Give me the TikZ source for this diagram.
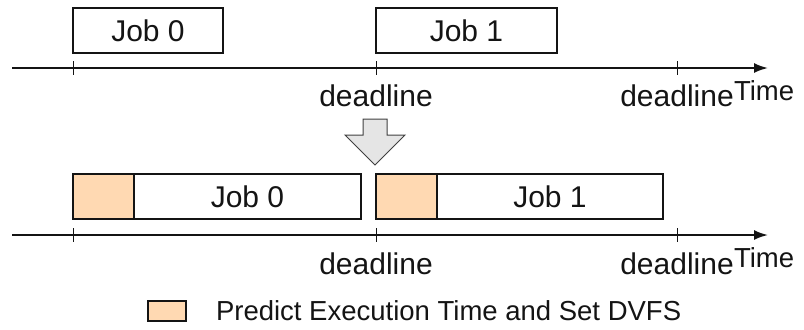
\documentclass[tikz,border=0pt]{standalone}
\usepackage{fontspec}
\setmainfont{Liberation Sans}
\usetikzlibrary{arrows.meta,positioning}
\definecolor{SchedInk}{gray}{0.08}
\definecolor{SchedArrowFill}{gray}{0.90}
\definecolor{SchedArrowInk}{gray}{0.25}
\definecolor{SchedPredict}{RGB}{255,217,178}
\tikzset{
    sched/diagram/.style={
        draw=SchedInk,
        text=SchedInk,
        line width=0.6pt,
        line join=miter,
        every node/.style={inner sep=0pt, outer sep=0pt}
    },
    sched/axis/.style={draw=SchedInk, line width=0.8pt,
        -{Latex[length=5.6pt, width=4pt]}},
    sched/tick/.style={draw=SchedInk, line width=0.4pt},
    sched/job/.style={draw=SchedInk, fill=white, line width=0.7pt,
        minimum height=18pt, font=\fontsize{12}{14}\selectfont},
    sched/predict/.style={draw=SchedInk, fill=SchedPredict, line width=0.7pt,
        minimum height=18pt, minimum width=24.4pt},
    sched/deadline/.style={anchor=base, font=\fontsize{12}{14}\selectfont},
    sched/time/.style={anchor=base west, font=\fontsize{11}{13}\selectfont},
    sched/legend/.style={anchor=base west, font=\fontsize{11}{13}\selectfont},
    sched/step arrow/.style={draw=SchedArrowInk, fill=SchedArrowFill, line width=0.4pt}
}
\begin{document}
\begin{tikzpicture}[sched/diagram, x=0.4pt, y=-0.4pt]
    \useasboundingbox (0,0) rectangle (804,329);
    % before: plain jobs
    \coordinate (topstart) at (12,68);
    \coordinate (topend) at (768,68);
    \draw[sched/axis] (topstart) -- (topend);
    \foreach \tx in {73,376,677}
        \draw[sched/tick] (\tx,61) -- (\tx,75);
    \node[sched/job, minimum width=60pt] (topjob0) at (148,30.5) {Job 0};
    \node[sched/job, minimum width=72.4pt] (topjob1) at (466.5,30.5) {Job 1};
    \node[sched/deadline] (topdead1) at (376,106) {deadline};
    \node[sched/deadline] (topdead2) at (677,106) {deadline};
    \node[sched/time] (toptime) at (734,100) {Time};
    % step arrow
    \draw[sched/step arrow] (363,119) -- (387,119) -- (387,135) -- (405,135)
        -- (375,165) -- (345,135) -- (363,135) -- cycle;
    % after: prediction before each job
    \coordinate (botstart) at (12,235);
    \coordinate (botend) at (768,235);
    \draw[sched/axis] (botstart) -- (botend);
    \foreach \tx in {73,376,677}
        \draw[sched/tick] (\tx,228) -- (\tx,242);
    \node[sched/predict] (pred0) at (103.5,196.5) {};
    \node[sched/job, minimum width=90.8pt, right=0pt of pred0] (botjob0) {Job 0};
    \node[sched/predict] (pred1) at (406.5,196.5) {};
    \node[sched/job, minimum width=90.4pt, right=0pt of pred1] (botjob1) {Job 1};
    \node[sched/deadline] (botdead1) at (376,274) {deadline};
    \node[sched/deadline] (botdead2) at (677,274) {deadline};
    \node[sched/time] (bottime) at (734,267) {Time};
    % legend
    \node[sched/predict, minimum width=15.2pt, minimum height=8pt,
          line width=0.5pt] (legswatch) at (167,311) {};
    \node[sched/legend] (legtext) at (216,320) {Predict Execution Time and Set DVFS};
\end{tikzpicture}
\end{document}
